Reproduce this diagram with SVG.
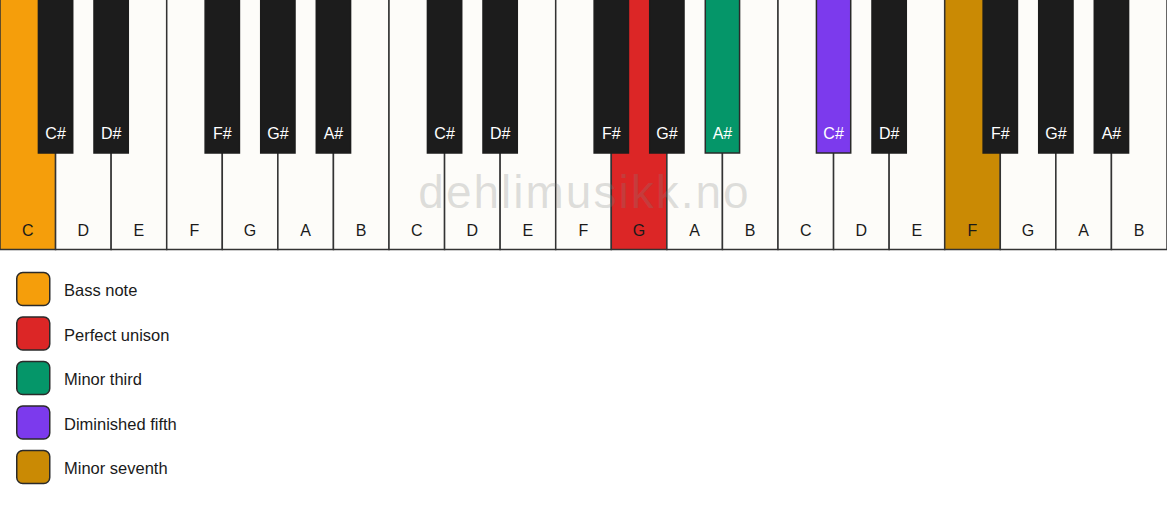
<svg xmlns="http://www.w3.org/2000/svg" width="1167" height="506" viewBox="0 0 1167 506">
<style>
.w{fill:#fdfcf9;stroke:#333;stroke-width:1.5}
.b{fill:#1c1c1c;stroke:#1c1c1c;stroke-width:1.5}
.bc{stroke:#2a2a2a;stroke-width:1.5}
.wl{font-family:"Liberation Sans",Arial,sans-serif;font-size:16px;fill:#1a1a1a;text-anchor:middle}
.bl{font-family:"Liberation Sans",Arial,sans-serif;font-size:16px;fill:#ffffff;text-anchor:middle}
.lg{stroke:#2a2a2a;stroke-width:1.5}
.lt{font-family:"Liberation Sans",Arial,sans-serif;font-size:16.5px;fill:#1a1a1a}
.wm{font-family:"Liberation Sans",Arial,sans-serif;font-size:46px;fill:#808080;fill-opacity:0.25;text-anchor:middle;letter-spacing:2px}
</style>
<rect width="1167" height="506" fill="#ffffff"/>
<g id="white-keys">
<g id="w0"><rect class="w" x="0" y="-1" width="55.57" height="250.5" style="fill:#f59e0b"/><text class="wl" x="27.79" y="236">C</text></g>
<g id="w1"><rect class="w" x="55.57" y="-1" width="55.57" height="250.5"/><text class="wl" x="83.36" y="236">D</text></g>
<g id="w2"><rect class="w" x="111.14" y="-1" width="55.57" height="250.5"/><text class="wl" x="138.93" y="236">E</text></g>
<g id="w3"><rect class="w" x="166.71" y="-1" width="55.57" height="250.5"/><text class="wl" x="194.5" y="236">F</text></g>
<g id="w4"><rect class="w" x="222.29" y="-1" width="55.57" height="250.5"/><text class="wl" x="250.07" y="236">G</text></g>
<g id="w5"><rect class="w" x="277.86" y="-1" width="55.57" height="250.5"/><text class="wl" x="305.64" y="236">A</text></g>
<g id="w6"><rect class="w" x="333.43" y="-1" width="55.57" height="250.5"/><text class="wl" x="361.21" y="236">B</text></g>
<g id="w7"><rect class="w" x="389" y="-1" width="55.57" height="250.5"/><text class="wl" x="416.79" y="236">C</text></g>
<g id="w8"><rect class="w" x="444.57" y="-1" width="55.57" height="250.5"/><text class="wl" x="472.36" y="236">D</text></g>
<g id="w9"><rect class="w" x="500.14" y="-1" width="55.57" height="250.5"/><text class="wl" x="527.93" y="236">E</text></g>
<g id="w10"><rect class="w" x="555.71" y="-1" width="55.57" height="250.5"/><text class="wl" x="583.5" y="236">F</text></g>
<g id="w11"><rect class="w" x="611.29" y="-1" width="55.57" height="250.5" style="fill:#dc2626"/><text class="wl" x="639.07" y="236">G</text></g>
<g id="w12"><rect class="w" x="666.86" y="-1" width="55.57" height="250.5"/><text class="wl" x="694.64" y="236">A</text></g>
<g id="w13"><rect class="w" x="722.43" y="-1" width="55.57" height="250.5"/><text class="wl" x="750.21" y="236">B</text></g>
<g id="w14"><rect class="w" x="778" y="-1" width="55.57" height="250.5"/><text class="wl" x="805.79" y="236">C</text></g>
<g id="w15"><rect class="w" x="833.57" y="-1" width="55.57" height="250.5"/><text class="wl" x="861.36" y="236">D</text></g>
<g id="w16"><rect class="w" x="889.14" y="-1" width="55.57" height="250.5"/><text class="wl" x="916.93" y="236">E</text></g>
<g id="w17"><rect class="w" x="944.71" y="-1" width="55.57" height="250.5" style="fill:#ca8a04"/><text class="wl" x="972.5" y="236">F</text></g>
<g id="w18"><rect class="w" x="1000.29" y="-1" width="55.57" height="250.5"/><text class="wl" x="1028.07" y="236">G</text></g>
<g id="w19"><rect class="w" x="1055.86" y="-1" width="55.57" height="250.5"/><text class="wl" x="1083.64" y="236">A</text></g>
<g id="w20"><rect class="w" x="1111.43" y="-1" width="55.57" height="250.5"/><text class="wl" x="1139.21" y="236">B</text></g>
</g>
<g id="black-keys">
<g id="b1"><rect class="b" x="38.42" y="-1" width="34.3" height="154"/><text class="bl" x="55.57" y="139">C#</text></g>
<g id="b2"><rect class="b" x="93.99" y="-1" width="34.3" height="154"/><text class="bl" x="111.14" y="139">D#</text></g>
<g id="b4"><rect class="b" x="205.14" y="-1" width="34.3" height="154"/><text class="bl" x="222.29" y="139">F#</text></g>
<g id="b5"><rect class="b" x="260.71" y="-1" width="34.3" height="154"/><text class="bl" x="277.86" y="139">G#</text></g>
<g id="b6"><rect class="b" x="316.28" y="-1" width="34.3" height="154"/><text class="bl" x="333.43" y="139">A#</text></g>
<g id="b8"><rect class="b" x="427.42" y="-1" width="34.3" height="154"/><text class="bl" x="444.57" y="139">C#</text></g>
<g id="b9"><rect class="b" x="482.99" y="-1" width="34.3" height="154"/><text class="bl" x="500.14" y="139">D#</text></g>
<g id="b11"><rect class="b" x="594.14" y="-1" width="34.3" height="154"/><text class="bl" x="611.29" y="139">F#</text></g>
<g id="b12"><rect class="b" x="649.71" y="-1" width="34.3" height="154"/><text class="bl" x="666.86" y="139">G#</text></g>
<g id="b13"><rect class="b bc" x="705.28" y="-1" width="34.3" height="154" style="fill:#059669"/><text class="bl" x="722.43" y="139">A#</text></g>
<g id="b15"><rect class="b bc" x="816.42" y="-1" width="34.3" height="154" style="fill:#7c3aed"/><text class="bl" x="833.57" y="139">C#</text></g>
<g id="b16"><rect class="b" x="871.99" y="-1" width="34.3" height="154"/><text class="bl" x="889.14" y="139">D#</text></g>
<g id="b18"><rect class="b" x="983.14" y="-1" width="34.3" height="154"/><text class="bl" x="1000.29" y="139">F#</text></g>
<g id="b19"><rect class="b" x="1038.71" y="-1" width="34.3" height="154"/><text class="bl" x="1055.86" y="139">G#</text></g>
<g id="b20"><rect class="b" x="1094.28" y="-1" width="34.3" height="154"/><text class="bl" x="1111.43" y="139">A#</text></g>
</g>
<text id="watermark" class="wm" x="584.5" y="208">dehlimusikk.no</text>
<g id="legend">
<g id="lg1"><rect class="lg" x="16.75" y="272.5" width="33" height="33" rx="6" fill="#f59e0b"/><text class="lt" x="64" y="296">Bass note</text></g>
<g id="lg2"><rect class="lg" x="16.75" y="317" width="33" height="33" rx="6" fill="#dc2626"/><text class="lt" x="64" y="340.5">Perfect unison</text></g>
<g id="lg3"><rect class="lg" x="16.75" y="361.5" width="33" height="33" rx="6" fill="#059669"/><text class="lt" x="64" y="385">Minor third</text></g>
<g id="lg4"><rect class="lg" x="16.75" y="406" width="33" height="33" rx="6" fill="#7c3aed"/><text class="lt" x="64" y="429.5">Diminished fifth</text></g>
<g id="lg5"><rect class="lg" x="16.75" y="450.5" width="33" height="33" rx="6" fill="#ca8a04"/><text class="lt" x="64" y="474">Minor seventh</text></g>
</g>
</svg>
